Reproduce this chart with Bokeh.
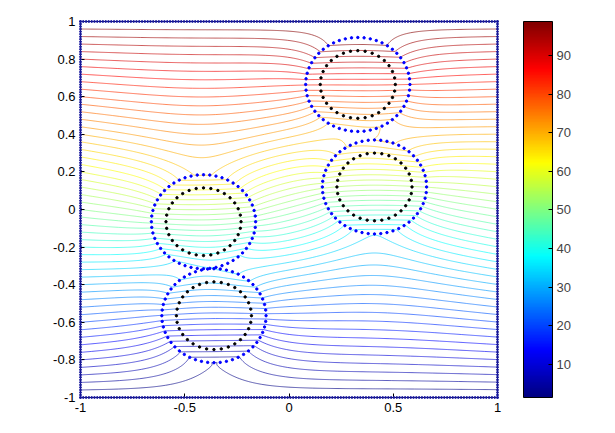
import numpy as np
from bokeh.plotting import figure
from bokeh.plotting.contour import contour_data
from bokeh.models import Range1d, FixedTicker, ColorBar, LinearColorMapper
from bokeh.embed import file_html
from bokeh.resources import INLINE

# ---------------- data ----------------
circle_cx = [0.33, 0.41, -0.41, -0.36]
circle_cy = [0.665, 0.12, -0.065, -0.565]
outer_r = [0.25, 0.25, 0.25, 0.25]      # blue dotted interfaces
inner_r = [0.18, 0.18, 0.18, 0.18]      # black dotted source circles
n_outer = 52
n_inner = 32
n_edge = 150
contrast = 0.7                          # inclusion strength (lines drawn into circles)
psi_bottom = 0.0
psi_top = 100.0
levels = [2, 4, 6, 8, 10, 12, 14, 16, 18, 20, 22, 24, 26, 28, 30, 32, 34, 36,
          38, 40, 42, 44, 46, 48, 50, 52, 54, 56, 58, 60, 62, 64, 66, 68, 70,
          72, 74, 76, 78, 80, 82, 84, 86, 88, 90, 92, 94, 96, 98]
cbar_low = 1.4
cbar_high = 98.8
cbar_ticks = [10, 20, 30, 40, 50, 60, 70, 80, 90]
x_ticks = [-1, -0.5, 0, 0.5, 1]
x_tick_labels = ["-1", "-0.5", "0", "0.5", "1"]
y_ticks = [-1, -0.8, -0.6, -0.4, -0.2, 0, 0.2, 0.4, 0.6, 0.8, 1]
y_tick_labels = ["-1", "-0.8", "-0.6", "-0.4", "-0.2", "0", "0.2", "0.4", "0.6", "0.8", "1"]

FONT = "Liberation Sans"


def jet(t):
    t = np.clip(t, 0, 1)
    r = np.clip(1.5 - np.abs(4 * t - 3), 0, 1)
    g = np.clip(1.5 - np.abs(4 * t - 2), 0, 1)
    b = np.clip(1.5 - np.abs(4 * t - 1), 0, 1)
    return "#%02x%02x%02x" % (int(round(r * 255)), int(round(g * 255)), int(round(b * 255)))


jet_palette = [jet(i / 255.0) for i in range(256)]

# ---------------- stream function field ----------------
nx = ny = 401
gx = np.linspace(-1, 1, nx)
gy = np.linspace(-1, 1, ny)
X, Y = np.meshgrid(gx, gy)
U = (psi_top - psi_bottom) / 2.0
psi = psi_bottom + U * (Y + 1.0)

for cx, cy, a in zip(circle_cx, circle_cy, outer_r):
    pert = np.zeros_like(X)
    for m in range(-3, 4):
        for sx, xi, xkind in ((1.0, cx + 4 * m, 0), (-1.0, -2 - cx + 4 * m, 1)):
            for n in range(-3, 4):
                for yi, ykind in ((cy + 4 * n, 0), (2 - cy + 4 * n, 1)):
                    if m == 0 and n == 0 and xkind == 0 and ykind == 0:
                        continue
                    dx = X - xi
                    dy = Y - yi
                    pert += sx * contrast * a * a * dy / (dx * dx + dy * dy)
    dx = X - cx
    dy = Y - cy
    r2 = dx * dx + dy * dy
    own = np.where(r2 < a * a, contrast * dy, contrast * a * a * dy / np.maximum(r2, 1e-12))
    psi += U * (pert + own)

cd = contour_data(gx, gy, psi, levels, want_fill=False, want_line=True)
ld = cd.line_data
line_colors = [jet((lv - cbar_low) / (cbar_high - cbar_low)) for lv in levels]

# ---------------- figure ----------------
p = figure(frame_width=417, frame_height=376, output_backend="svg", toolbar_location=None,
           x_range=Range1d(-1, 1), y_range=Range1d(-1, 1),
           min_border_left=80, min_border_top=21, min_border_bottom=28, min_border_right=0)
p.grid.visible = False
p.outline_line_color = "black"
p.outline_line_width = 1

p.multi_line(xs=list(ld.xs), ys=list(ld.ys), line_color=line_colors, line_width=0.8, line_alpha=0.8)

# dots: outer interfaces (blue), inner source circles (black), box boundary (blue)
bx, by, kx, ky = [], [], [], []
for cx, cy, ro, ri in zip(circle_cx, circle_cy, outer_r, inner_r):
    to = np.arange(n_outer) * 2 * np.pi / n_outer
    ti = np.arange(n_inner) * 2 * np.pi / n_inner
    bx.extend(cx + ro * np.cos(to)); by.extend(cy + ro * np.sin(to))
    kx.extend(cx + ri * np.cos(ti)); ky.extend(cy + ri * np.sin(ti))
edge = np.linspace(-1, 1, n_edge)
ex = np.concatenate([edge, edge, -np.ones(n_edge), np.ones(n_edge)])
ey = np.concatenate([-np.ones(n_edge), np.ones(n_edge), edge, edge])

p.scatter(ex, ey, size=1.9, color="#1a1aa0", level="overlay")
p.scatter(bx, by, size=2.4, color="#0000ff", level="overlay")
p.scatter(kx, ky, size=2.4, color="black", level="overlay")

for ax, ticks, labels in ((p.xaxis[0], x_ticks, x_tick_labels), (p.yaxis[0], y_ticks, y_tick_labels)):
    ax.ticker = FixedTicker(ticks=ticks)
    ax.major_label_overrides = {t: l for t, l in zip(ticks, labels)}
    ax.major_tick_in = 4
    ax.major_tick_out = 0
    ax.minor_tick_line_color = None
    ax.axis_line_color = "black"
    ax.major_label_text_font = FONT
    ax.major_label_text_font_size = "13px"
    ax.major_label_text_color = "black"
    ax.major_label_standoff = 5

mapper = LinearColorMapper(palette=jet_palette, low=cbar_low, high=cbar_high)
cb = ColorBar(color_mapper=mapper, ticker=FixedTicker(ticks=cbar_ticks), width=29, height=376,
              padding=0, margin=0, location=(26, 0), major_tick_in=4, major_tick_out=0,
              major_tick_line_color="black", bar_line_color="black", minor_tick_line_color=None,
              major_label_text_font=FONT, major_label_text_font_size="13px", label_standoff=4)
p.add_layout(cb, "right")

open("out.html", "w").write(file_html(p, INLINE))
